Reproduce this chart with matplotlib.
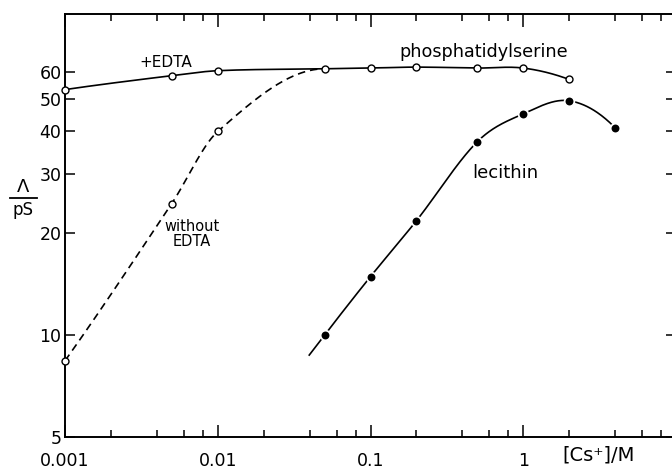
import numpy as np
import matplotlib
matplotlib.use("Agg")
import matplotlib.pyplot as plt
from matplotlib.lines import Line2D
from matplotlib.ticker import FixedLocator, NullFormatter, NullLocator
import matplotlib.transforms as mtransforms

# ---- data ----
ps_edta_x = [0.001, 0.005, 0.01, 0.05, 0.1, 0.2, 0.5, 1, 2]
ps_edta_y = [53.2, 58.5, 60.5, 61.3, 61.6, 62.0, 61.6, 61.6, 57.0]

ps_noedta_x = [0.001, 0.005, 0.01, 0.05]
ps_noedta_y = [8.4, 24.5, 40.0, 61.3]

lecithin_x = [0.05, 0.1, 0.2, 0.5, 1, 2, 4]
lecithin_y = [10.0, 14.9, 21.8, 37.3, 45.1, 49.3, 41.0]

y_ticks = [5, 10, 20, 30, 40, 50, 60]
y_ticklabels = ["5", "10", "20", "30", "40", "50", "60"]
x_ticks = [0.001, 0.01, 0.1, 1]
x_ticklabels = ["0.001", "0.01", "0.1", "1"]
x_minor_mult = [2, 4, 6, 8]

plt.rcParams['font.family'] = ['DejaVu Sans']


def smooth_curve(x, y, n=400, ext_start=0.0):
    """Local cubic Hermite (Catmull-Rom) through the points in log-log space (drawing only)."""
    lx = np.log10(np.asarray(x, float))
    ly = np.log10(np.asarray(y, float))
    N = len(lx)
    h = np.diff(lx)
    d = np.diff(ly) / h
    m = np.zeros(N)
    for k in range(1, N - 1):
        m[k] = (ly[k + 1] - ly[k - 1]) / (lx[k + 1] - lx[k - 1])

    def endslope(h0, h1, d0, d1):
        s = ((2 * h0 + h1) * d0 - h0 * d1) / (h0 + h1)
        if np.sign(s) != np.sign(d0):
            s = 0.0
        elif np.sign(d0) != np.sign(d1) and abs(s) > abs(3 * d0):
            s = 3 * d0
        return s

    m[0] = endslope(h[0], h[1], d[0], d[1])
    m[-1] = endslope(h[-1], h[-2], d[-1], d[-2])
    xs, ys = [], []
    if ext_start > 0:
        xs.append(lx[0] - ext_start)
        ys.append(ly[0] - m[0] * ext_start)
    for k in range(N - 1):
        t = np.linspace(0, 1, n // (N - 1) + 2)
        h00 = 2 * t**3 - 3 * t**2 + 1
        h10 = t**3 - 2 * t**2 + t
        h01 = -2 * t**3 + 3 * t**2
        h11 = t**3 - t**2
        yy = h00 * ly[k] + h10 * h[k] * m[k] + h01 * ly[k + 1] + h11 * h[k] * m[k + 1]
        xs.extend(lx[k] + t * h[k])
        ys.extend(yy)
    return 10 ** np.array(xs), 10 ** np.array(ys)


W, H = 672, 469
fig = plt.figure(figsize=(W / 100, H / 100), dpi=100)
left_px, right_px, top_px, bottom_px = 65, 676, 14, 437
ax = fig.add_axes([left_px / W, 1 - bottom_px / H,
                   (right_px - left_px) / W, (bottom_px - top_px) / H])

ax.set_xscale('log')
ax.set_yscale('log')
ax.set_xlim(0.001, 10)
ax.set_ylim(5, 89)

lw = 1.2
# phosphatidylserine + EDTA
cx, cy = smooth_curve(ps_edta_x, ps_edta_y)
ax.plot(cx, cy, color='black', lw=lw, zorder=2)
ax.plot(ps_edta_x, ps_edta_y, 'o', ms=5, mfc='white', mec='black', mew=1.0, zorder=3,
        clip_on=False)
# without EDTA (dashed)
cx, cy = smooth_curve(ps_noedta_x, ps_noedta_y)
ax.plot(cx, cy, color='black', lw=lw, dashes=(4.5, 3.0), zorder=2)
ax.plot(ps_noedta_x[:-1], ps_noedta_y[:-1], 'o', ms=5, mfc='white', mec='black', mew=1.0,
        zorder=3, clip_on=False)
# lecithin
cx, cy = smooth_curve(lecithin_x, lecithin_y, ext_start=0.1)
ax.plot(cx, cy, color='black', lw=lw, zorder=2)
ax.plot(lecithin_x, lecithin_y, 'o', ms=7, mfc='black', mec='white', mew=1.3, zorder=3)

# annotations
ax.text(0.0046, 64.1, "+EDTA", fontsize=11, ha='center', va='center')
ax.text(0.55, 68.5, "phosphatidylserine", fontsize=12.7, ha='center', va='center')
ax.text(0.76, 30.2, "lecithin", fontsize=13, ha='center', va='center')
ax.text(0.00676, 19.9, "without\nEDTA", fontsize=10.5, ha='center', va='center',
        linespacing=1.0)

# axes styling
for s in ax.spines.values():
    s.set_linewidth(1.4)
ax.xaxis.set_major_locator(FixedLocator(x_ticks))
ax.set_xticklabels(x_ticklabels)
minor = [b * m for b in [0.001, 0.01, 0.1, 1] for m in x_minor_mult]
ax.xaxis.set_minor_locator(FixedLocator(minor))
ax.xaxis.set_minor_formatter(NullFormatter())
ax.yaxis.set_major_locator(FixedLocator(y_ticks))
ax.set_yticklabels(y_ticklabels)
ax.yaxis.set_minor_locator(NullLocator())
ax.tick_params(axis='both', which='both', direction='in', top=True, right=True,
               width=1.1, labelsize=12.5)
ax.tick_params(axis='x', which='major', length=9, pad=11)
ax.tick_params(axis='x', which='minor', length=5)
ax.tick_params(axis='y', which='major', length=7.5, pad=2.5)

# x axis label placed like a tick label
trans = mtransforms.blended_transform_factory(ax.transData, ax.transAxes)
ax.text(3.13, -0.043, "[Cs\u207a]/M", transform=trans, fontsize=14,
        ha='center', va='center')

# y axis label as fraction  Λ / pS
fig.text(23 / W, 1 - 187 / H, "\u039b", fontsize=13, ha='center', va='center')
fig.add_artist(Line2D([10 / W, 37 / W], [1 - 198 / H, 1 - 198 / H],
                      transform=fig.transFigure, color='black', lw=1.3))
fig.text(23 / W, 1 - 210 / H, "pS", fontsize=12, ha='center', va='center')

fig.savefig("out.png", dpi=100)
